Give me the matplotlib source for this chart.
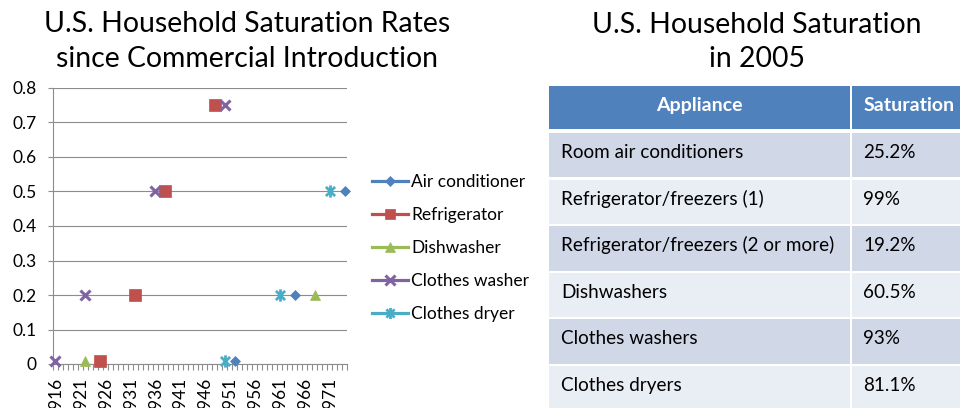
# Household appliance saturation: scatter of years-to-saturation plus 2005 table

import matplotlib.pyplot as plt
import numpy as np
from matplotlib.lines import Line2D
from matplotlib.path import Path
from matplotlib.patches import Rectangle

plt.rcParams['font.family'] = ['Lato', 'DejaVu Sans']

# Year each appliance reached a given saturation level
series_names = ['Air conditioner', 'Refrigerator', 'Dishwasher', 'Clothes washer', 'Clothes dryer']
ac_years = [1952, 1964, 1974]
ac_rates = [0.01, 0.2, 0.5]
fridge_years = [1925, 1932, 1938, 1948]
fridge_rates = [0.01, 0.2, 0.5, 0.75]
dish_years = [1922, 1968]
dish_rates = [0.01, 0.2]
washer_years = [1916, 1922, 1936, 1950]
washer_rates = [0.01, 0.2, 0.5, 0.75]
dryer_years = [1950, 1961, 1971]
dryer_rates = [0.01, 0.2, 0.5]

year_ticks = list(range(1916, 1972, 5))
rate_ticks = [0, 0.1, 0.2, 0.3, 0.4, 0.5, 0.6, 0.7, 0.8]

# 2005 table
table_header = ['Appliance', 'Saturation']
appliances = ['Room air conditioners', 'Refrigerator/freezers (1)',
              'Refrigerator/freezers (2 or more)', 'Dishwashers',
              'Clothes washers', 'Clothes dryers']
saturation = ['25.2%', '99%', '19.2%', '60.5%', '93%', '81.1%']

left_title = ['U.S. Household Saturation Rates', 'since Commercial Introduction']
right_title = ['U.S. Household Saturation', 'in 2005']

colors = ['#4F81BD', '#C0504D', '#9BBB59', '#8064A2', '#4BACC6']

# Excel style asterisk: X plus a vertical bar
star = Path([(0, -1), (0, 1), (-0.75, -0.75), (0.75, 0.75), (-0.75, 0.75), (0.75, -0.75)],
            [Path.MOVETO, Path.LINETO] * 3)
markers = [('D', 5.3, 0.5), ('s', 8.3, 0.5), ('^', 7.8, 0.5), ('x', 7.8, 2.2), (star, 8.8, 2.0)]

data = [(ac_years, ac_rates), (fridge_years, fridge_rates), (dish_years, dish_rates),
        (washer_years, washer_rates), (dryer_years, dryer_rates)]

W, H = 960, 408
fig = plt.figure(figsize=(9.6, 4.08), dpi=100)

ax = fig.add_axes([53 / W, (H - 364) / H, 294 / W, 276 / H])
grid_col = '#8c8c8c'
for (xs, ys), c, (m, ms, mew) in zip(data, colors, markers):
    ax.plot(xs, ys, linestyle='none', marker=m, ms=ms, mew=mew, color=c,
            mfc=c, mec=c, clip_on=False, zorder=3)

ax.set_xlim(1915.5, 1974.5)
ax.set_ylim(0, 0.8)
ax.set_yticks(rate_ticks)
ax.set_yticklabels([f'{v:g}' for v in rate_ticks])
ax.set_xticks(year_ticks)
ax.set_xticklabels([str(y) for y in year_ticks], rotation=90)
ax.set_xticks(np.arange(1915.5, 1975, 1), minor=True)
ax.tick_params(axis='x', which='major', length=0, pad=9, labelsize=12.5, colors='black')
ax.tick_params(axis='x', which='minor', length=4, color=grid_col, width=0.8)
ax.tick_params(axis='y', length=3.6, color=grid_col, width=0.8, pad=8, labelsize=12.5)
ax.grid(axis='y', color=grid_col, lw=0.8)
ax.set_axisbelow(True)
for s in ['top', 'right']:
    ax.spines[s].set_visible(False)
for s in ['left', 'bottom']:
    ax.spines[s].set_color(grid_col)
    ax.spines[s].set_linewidth(0.8)

handles = [Line2D([], [], color=c, lw=2.3, marker=m, ms=ms * 0.9, mew=mew, mfc=c, mec=c)
           for c, (m, ms, mew) in zip(colors, markers)]
fig.legend(handles, series_names, loc='center left', bbox_to_anchor=(372 / W, 1 - 248 / H),
           frameon=False, fontsize=12.5, handlelength=2.1, handletextpad=0.15,
           labelspacing=0.98, borderpad=0, borderaxespad=0)

# titles
for i, line in enumerate(left_title):
    fig.text(247 / W, 1 - (32 + 35 * i) / H, line, ha='center', va='baseline', fontsize=20.4)
for i, line in enumerate(right_title):
    fig.text(757 / W, 1 - (33 + 34 * i) / H, line, ha='center', va='baseline', fontsize=20.4)

# table drawn in pixel coordinates
tax = fig.add_axes([0, 0, 1, 1], facecolor='none')
tax.set_xlim(0, W)
tax.set_ylim(H, 0)
tax.axis('off')

col_x = [549, 851.5]
col_w = [300.5, 140]
text_pad = 12
tax.add_patch(Rectangle((col_x[0], 86), col_w[0], 43, color='#4F81BD', lw=0))
tax.add_patch(Rectangle((col_x[1], 86), col_w[1], 43, color='#4F81BD', lw=0))
tax.text(col_x[0] + col_w[0] / 2, 86 + 25, table_header[0], ha='center', va='baseline',
         color='white', fontsize=14, fontweight='bold')
tax.text(col_x[1] + text_pad, 86 + 25, table_header[1], ha='left', va='baseline',
         color='white', fontsize=14, fontweight='bold')

row_top0 = 133
row_pitch = 46.6
for i, (name, val) in enumerate(zip(appliances, saturation)):
    top = row_top0 + i * row_pitch
    fc = '#D0D8E8' if i % 2 == 0 else '#E9EDF4'
    for cx, cw in zip(col_x, col_w):
        tax.add_patch(Rectangle((cx, top), cw, 44.4, color=fc, lw=0))
    tax.text(col_x[0] + text_pad, top + 25, name, ha='left', va='baseline', fontsize=13.6)
    tax.text(col_x[1] + text_pad, top + 25, val, ha='left', va='baseline', fontsize=13.6)

fig.savefig('out.png', dpi=100)
